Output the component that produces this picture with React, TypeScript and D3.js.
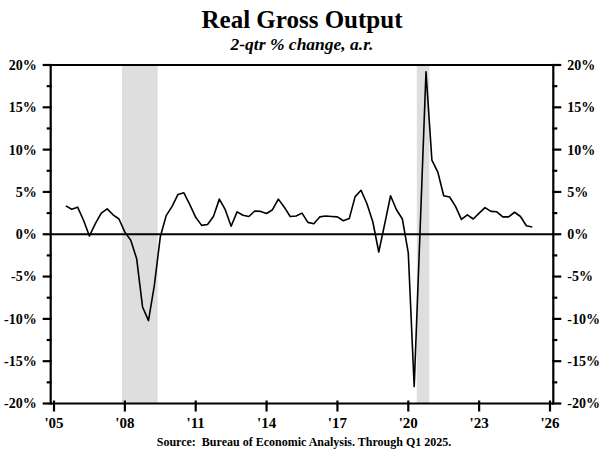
import { useEffect, useRef } from 'react'
import * as d3 from 'd3'

// 2-qtr % change, annualized, quarterly from Q2 2005
const firstQuarter = 2005.5
const growth = [
  3.35, 2.95, 3.2, 1.65, -0.2, 1.25, 2.5, 3.0, 2.3, 1.8,
  0.25, -0.7, -2.9, -8.6, -10.2, -6.0, -0.3, 2.2, 3.3, 4.7,
  4.9, 3.5, 2.0, 1.05, 1.15, 2.1, 4.15, 2.9, 0.95, 2.65,
  2.25, 2.1, 2.75, 2.7, 2.45, 2.9, 4.15, 3.2, 2.1, 2.15,
  2.5, 1.4, 1.25, 2.05, 2.15, 2.1, 2.05, 1.6, 1.85, 4.45,
  5.2, 3.6, 1.45, -2.1, 1.2, 4.55, 2.9, 1.8, -2.2, -18.0,
  0.5, 19.2, 8.75, 7.35, 4.55, 4.4, 3.3, 1.75, 2.3, 1.8,
  2.5, 3.15, 2.7, 2.65, 2.05, 2.05, 2.6, 2.1, 1.0, 0.85,
]

const recessions: [number, number][] = [
  [2007.88, 2009.39],
  [2020.36, 2020.89],
]

const yearTicks = [2005, 2008, 2011, 2014, 2017, 2020, 2023, 2026]
const yMajorTicks = [-20, -15, -10, -5, 0, 5, 10, 15, 20]
const yMinorTicks = [-17.5, -12.5, -7.5, -2.5, 2.5, 7.5, 12.5, 17.5]

const W = 604
const H = 459
const FONT = '"Liberation Serif", "Times New Roman", serif'

export default function App() {
  const svgRef = useRef<SVGSVGElement>(null)

  useEffect(() => {
    document.body.style.margin = '0'
    if (!svgRef.current) return
    const svg = d3.select(svgRef.current)
    svg.selectAll('*').remove()

    const x = d3.scaleLinear().domain([2004.86, 2026.14]).range([50.7, 553.3])
    const y = d3.scaleLinear().domain([-20, 20]).range([403.5, 65])
    const [x0, x1] = x.range()

    // Recession bars
    svg.append('g')
      .selectAll('rect')
      .data(recessions)
      .enter().append('rect')
      .attr('x', d => x(d[0]))
      .attr('width', d => x(d[1]) - x(d[0]))
      .attr('y', y(20))
      .attr('height', y(-20) - y(20))
      .attr('fill', '#dedede')

    // Zero line
    svg.append('line')
      .attr('x1', x0).attr('x2', x1)
      .attr('y1', y(0)).attr('y2', y(0))
      .attr('stroke', '#000').attr('stroke-width', 1.8)

    // Series
    const line = d3.line<number>()
      .x((_, i) => x(firstQuarter + i * 0.25))
      .y(d => y(d))
    svg.append('path')
      .datum(growth)
      .attr('fill', 'none')
      .attr('stroke', '#000')
      .attr('stroke-width', 1.6)
      .attr('stroke-linejoin', 'round')
      .attr('d', line)

    const axis = svg.append('g').attr('stroke', '#000').attr('stroke-width', 2.2)

    // Frame: left, right, top and bottom lines
    axis.append('line').attr('x1', x0).attr('x2', x0).attr('y1', y(20)).attr('y2', y(-20) + 1)
    axis.append('line').attr('x1', x1).attr('x2', x1).attr('y1', y(20)).attr('y2', y(-20) + 1)
    axis.append('line').attr('x1', x0).attr('x2', x1).attr('y1', y(20)).attr('y2', y(20))
    axis.append('line').attr('x1', x0).attr('x2', x1).attr('y1', y(-20)).attr('y2', y(-20))

    // Y ticks
    yMajorTicks.forEach(v => {
      axis.append('line').attr('x1', x0 - 8).attr('x2', x0 + 1).attr('y1', y(v)).attr('y2', y(v))
      axis.append('line').attr('x1', x1 - 1).attr('x2', x1 + 8).attr('y1', y(v)).attr('y2', y(v))
    })
    yMinorTicks.forEach(v => {
      axis.append('line').attr('x1', x0 - 4).attr('x2', x0 + 1).attr('y1', y(v)).attr('y2', y(v))
      axis.append('line').attr('x1', x1 - 1).attr('x2', x1 + 4).attr('y1', y(v)).attr('y2', y(v))
    })

    // X ticks
    yearTicks.forEach(t => {
      axis.append('line').attr('x1', x(t)).attr('x2', x(t)).attr('y1', y(-20) - 3).attr('y2', y(-20) + 8)
    })

    const text = svg.append('g')
      .attr('font-family', FONT)
      .attr('font-weight', 'bold')
      .attr('fill', '#000')

    yMajorTicks.forEach(v => {
      text.append('text')
        .attr('x', x0 - 14).attr('y', y(v)).attr('dy', '0.35em')
        .attr('text-anchor', 'end').attr('font-size', 14)
        .text(`${v}%`)
      text.append('text')
        .attr('x', x1 + 14).attr('y', y(v)).attr('dy', '0.35em')
        .attr('text-anchor', 'start').attr('font-size', 14)
        .text(`${v}%`)
    })

    yearTicks.forEach(t => {
      text.append('text')
        .attr('x', x(t)).attr('y', 428)
        .attr('text-anchor', 'middle').attr('font-size', 15)
        .text(`'${String(t).slice(2)}`)
    })

    text.append('text')
      .attr('x', W / 2).attr('y', 28)
      .attr('text-anchor', 'middle').attr('font-size', 25)
      .text('Real Gross Output')

    text.append('text')
      .attr('x', W / 2).attr('y', 50)
      .attr('text-anchor', 'middle').attr('font-size', 17.5)
      .attr('font-style', 'italic')
      .text('2-qtr % change, a.r.')

    text.append('text')
      .attr('x', W / 2 + 2).attr('y', 446)
      .attr('text-anchor', 'middle').attr('font-size', 12)
      .text('Source:  Bureau of Economic Analysis. Through Q1 2025.')
      .attr('xml:space', 'preserve')
      .style('white-space', 'pre')
  }, [])

  return (
    <svg
      ref={svgRef}
      width={W}
      height={H}
      style={{ position: 'absolute', left: 0, top: 0, background: '#fff' }}
    />
  )
}
